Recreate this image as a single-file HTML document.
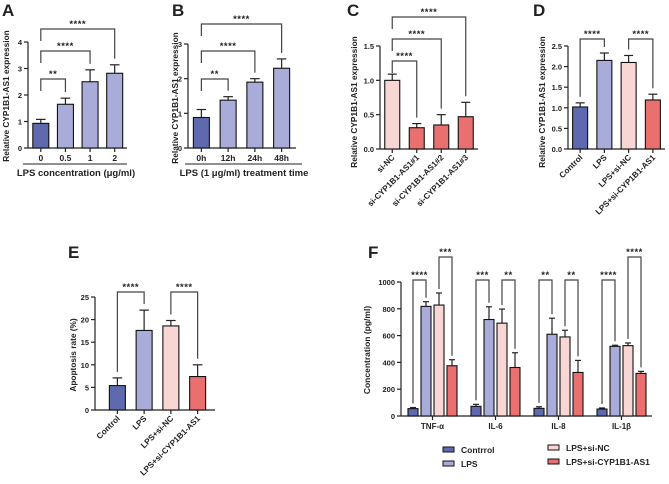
<!DOCTYPE html>
<html><head><meta charset="utf-8"><style>
html,body{margin:0;padding:0;background:#fff;}
svg{display:block;font-family:"Liberation Sans",Arial,sans-serif;font-weight:bold;}
</style></head><body>
<svg id="fig" width="669" height="484" viewBox="0 0 669 484" xmlns="http://www.w3.org/2000/svg"></svg>
<script>
// ---- Panel A data ----
const aCats = ["0","0.5","1","2"];
const aVals = [0.93,1.65,2.5,2.82];
const aErrs = [0.15,0.23,0.45,0.32];
const aTicks = [0,1,2,3,4];
const aTickLabels = ["0","1","2","3","4"];
// ---- Panel B data ----
const bCats = ["0h","12h","24h","48h"];
const bVals = [0.88,1.38,1.9,2.3];
const bErrs = [0.23,0.1,0.1,0.27];
const bTicks = [0,1,2,3];
const bTickLabels = ["0","1","2","3"];
// ---- Panel C data ----
const cCats = ["si-NC","si-CYP1B1-AS1#1","si-CYP1B1-AS1#2","si-CYP1B1-AS1#3"];
const cVals = [1.0,0.31,0.35,0.47];
const cErrs = [0.09,0.06,0.15,0.21];
const cTicks = [0,0.5,1,1.5];
const cTickLabels = ["0.0","0.5","1.0","1.5"];
// ---- Panel D data ----
const dCats = ["Control","LPS","LPS+si-NC","LPS+si-CYP1B1-AS1"];
const dVals = [1.02,2.15,2.1,1.19];
const dErrs = [0.1,0.18,0.17,0.14];
const dTicks = [0,0.5,1,1.5,2,2.5];
const dTickLabels = ["0.0","0.5","1.0","1.5","2.0","2.5"];
// ---- Panel E data ----
const eCats = ["Control","LPS","LPS+si-NC","LPS+si-CYP1B1-AS1"];
const eVals = [5.4,17.6,18.6,7.4];
const eErrs = [1.7,4.5,1.2,2.6];
const eTicks = [0,5,10,15,20,25];
const eTickLabels = ["0","5","10","15","20","25"];
// ---- Panel F data ----
const fGroups = ["TNF-α","IL-6","IL-8","IL-1β"];
const fSeries = ["Contrrol","LPS","LPS+si-NC","LPS+si-CYP1B1-AS1"];
const fControl = [55,72,57,52];
const fLPS = [818,720,610,520];
const fNC = [828,693,590,525];
const fSi = [375,362,325,318];
const fControlErr = [8,15,12,8];
const fLPSErr = [35,95,120,8];
const fNCErr = [90,105,50,20];
const fSiErr = [45,110,90,15];
const fTicks = [0,200,400,600,800,1000];
const fTickLabels = ["0","200","400","600","800","1000"];

const NS="http://www.w3.org/2000/svg";
const svg=document.getElementById('fig');
const COL=["#5f6aae","#a9acd8","#f8d6d4","#ea7070"];
const TXT="#222";
function mk(tag,attrs,parent){const e=document.createElementNS(NS,tag);for(const k in attrs)e.setAttribute(k,attrs[k]);(parent||svg).appendChild(e);return e;}
function txt(s,x,y,size,anchor,parent,extra){const t=mk('text',Object.assign({x:x,y:y,'font-size':size,'text-anchor':anchor||'middle',fill:TXT},extra||{}),parent);t.textContent=s;return t;}

function letter(s,x,y){const t=txt(s,x,y,17,'start');

}

function yAxis(g,p,ticks,labels){
  const ax=mk('line',{x1:p.ax,x2:p.ax,y1:p.y0,y2:p.yTop,stroke:TXT,'stroke-width':1.2},g);
  
  
  ticks.forEach((v,i)=>{const y=p.ys(v);
    mk('line',{x1:p.ax-4,x2:p.ax,y1:y,y2:y,stroke:TXT,'stroke-width':1.2},g);
    const t=txt(labels[i],p.ax-6,y+3,7.5,'end',g);
    
    
  });
  const xa=mk('line',{x1:p.ax,x2:p.axEnd,y1:p.y0,y2:p.y0,stroke:TXT,'stroke-width':1.2},g);
  
  
}
function bar(g,cx,w,v,e,col,p,name){
  const yt=p.ys(v),ye=p.ys(v+e);
  mk('line',{x1:cx,x2:cx,y1:yt,y2:ye,stroke:TXT,'stroke-width':1.2},g);
  mk('line',{x1:cx-w*0.3,x2:cx+w*0.3,y1:ye,y2:ye,stroke:TXT,'stroke-width':1.2},g);
  const r=mk('rect',{x:cx-w/2,y:yt,width:w,height:p.y0-yt,fill:col,stroke:"#111",'stroke-width':1.1},g);
  
  
  return ye;
}
function bracket(g,xa,ya,xb,yb,y,stars){
  const pth=mk('path',{d:`M${xa},${ya}V${y}H${xb}V${yb}`,fill:'none',stroke:'#444','stroke-width':1.2},g);
  
  
  const t=txt(stars,(xa+xb)/2,y-2,9.5,'middle',g,{'letter-spacing':'0.5'});
  
  
}
function panel(o){
  const g=mk('g',{});
  
  
  const p={ax:o.ax,axEnd:o.axEnd,y0:o.y0,yTop:o.yTop,ys:v=>o.y0-v*(o.y0-o.yTop)/o.yMax};
  const step=(o.b1-o.b0)/o.cats.length;
  const xs=i=>o.b0+(i+0.5)*step;
  yAxis(g,p,o.ticks,o.tickLabels);
  const tops=[];
  o.cats.forEach((c,i)=>{
    tops.push(bar(g,xs(i),o.bw,o.vals[i],o.errs[i],COL[o.colors[i]],p,'bar-'+c.toLowerCase().replace(/[^a-z0-9]+/g,'-')));
    mk('line',{x1:xs(i),x2:xs(i),y1:o.y0,y2:o.y0+4,stroke:TXT,'stroke-width':1.2},g);
    let t;
    if(o.rot){t=txt(c,xs(i)+3,o.y0+9,8.2,'end',g,{transform:`rotate(-45 ${xs(i)+3} ${o.y0+9})`});}
    else t=txt(c,xs(i),o.y0+13,8.5,'middle',g);
    
    
  });
  o.brackets.forEach(b=>{
    const y=b[2];
    const ya=b[4]?y+12:tops[b[0]]-6;
    bracket(g,xs(b[0]),ya,xs(b[1]),tops[b[1]]-6,y,b[3]);
  });
  const yt=txt(o.ytitle,0,0,8.3,'middle',g,{transform:`translate(${o.ytx},${o.yty}) rotate(-90)`});
  
  
}

letter("A",2,16);letter("B",172,16);letter("C",347,16);letter("D",533,16);letter("E",68,258);letter("F",368,258);

panel({name:'panel-a',cats:aCats,vals:aVals,errs:aErrs,ticks:aTicks,tickLabels:aTickLabels,ax:28,axEnd:127,b0:28.5,b1:127,y0:148,yTop:42,yMax:4,bw:16,colors:[0,1,1,1],
 brackets:[[0,1,79,"**",1],[0,2,51,"****",1],[0,3,29,"****",1]],ytitle:"Relative CYP1B1-AS1 expression",ytx:9,yty:96});
panel({name:'panel-b',cats:bCats,vals:bVals,errs:bErrs,ticks:bTicks,tickLabels:bTickLabels,ax:188,axEnd:296,b0:188,b1:295,y0:148,yTop:44,yMax:3,bw:16,colors:[0,1,1,1],
 brackets:[[0,1,79,"**",1],[0,2,51,"****",1],[0,3,24,"****",1]],ytitle:"Relative CYP1B1-AS1 expression",ytx:178,yty:98});
panel({name:'panel-c',cats:cCats,vals:cVals,errs:cErrs,ticks:cTicks,tickLabels:cTickLabels,ax:380,axEnd:478,b0:380,b1:478,y0:149,yTop:46,yMax:1.5,bw:15,colors:[2,3,3,3],rot:1,
 brackets:[[0,1,61,"****",1],[0,2,39,"****",1],[0,3,17,"****",1]],ytitle:"Relative CYP1B1-AS1 expression",ytx:357,yty:102});
panel({name:'panel-d',cats:dCats,vals:dVals,errs:dErrs,ticks:dTicks,tickLabels:dTickLabels,ax:568,axEnd:665,b0:568,b1:665,y0:149,yTop:46,yMax:2.5,bw:15,colors:[0,1,2,3],rot:1,
 brackets:[[0,1,39,"****"],[2,3,39,"****"]],ytitle:"Relative CYP1B1-AS1 expression",ytx:545,yty:102});
panel({name:'panel-e',cats:eCats,vals:eVals,errs:eErrs,ticks:eTicks,tickLabels:eTickLabels,ax:95,axEnd:215,b0:104,b1:211,y0:410,yTop:297,yMax:25,bw:16,colors:[0,1,2,3],rot:1,
 brackets:[[0,1,292,"****"],[2,3,292,"****"]],ytitle:"Apoptosis rate (%)",ytx:76,yty:355});

// x-axis titles A/B
mk('line',{x1:23,x2:127,y1:164,y2:164,stroke:TXT,'stroke-width':1});
let t1=txt("LPS concentration (μg/ml)",76,176,9.5,'middle');


mk('line',{x1:185,x2:302,y1:164,y2:164,stroke:TXT,'stroke-width':1});
let t2=txt("LPS (1 μg/ml) treatment time",244,176,9.5,'middle');



// Panel F
(function(){
  const g=mk('g',{});
  
  
  const y0=416,yTop=282,yMax=1000;
  const p={ax:401,axEnd:652,y0:y0,yTop:yTop,ys:v=>y0-v*(y0-yTop)/yMax};
  yAxis(g,p,fTicks,fTickLabels);
  const b0=401,b1=653,step=(b1-b0)/fGroups.length;
  const gx=i=>b0+(i+0.5)*step;
  const off=[-19.5,-6.5,6.5,19.5];
  const series=[fControl,fLPS,fNC,fSi],errs=[fControlErr,fLPSErr,fNCErr,fSiErr];
  const stars=[["****","***"],["***","**"],["**","**"],["****","****"]];
  const high=[1,0,0,1];
  fGroups.forEach((gname,i)=>{
    const tops=[];
    series.forEach((s,j)=>{tops.push(bar(g,gx(i)+off[j],10,s[i],errs[j][i],COL[j],p,'bar-'+gname+'-'+fSeries[j]));});
    mk('line',{x1:gx(i),x2:gx(i),y1:y0,y2:y0+4,stroke:TXT,'stroke-width':1.2},g);
    const t=txt(gname,gx(i),y0+13,8,'middle',g);
    
    
    bracket(g,gx(i)+off[0],tops[0]-4,gx(i)+off[1],tops[1]-4,280,stars[i][0]);
    bracket(g,gx(i)+off[2],tops[2]-4,gx(i)+off[3],tops[3]-4,high[i]?257:280,stars[i][1]);
  });
  const yt=txt("Concentration (pg/ml)",0,0,8.5,'middle',g,{transform:'translate(370,350) rotate(-90)'});
  
  
  const leg=[[443,450],[443,464],[548,448],[548,462]];
  fSeries.forEach((s,j)=>{
    const r=mk('rect',{x:leg[j][0],y:leg[j][1]-3,width:11,height:5,fill:COL[j],stroke:'#111','stroke-width':1},g);
    
    
    const t=txt(s,leg[j][0]+18,leg[j][1]+3,8.5,'start',g);
    
    
  });
})();
</script>
</body></html>
